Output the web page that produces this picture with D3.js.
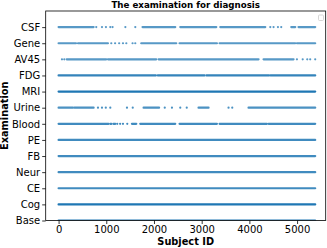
<!DOCTYPE html>
<html>
<head>
<meta charset="utf-8">
<script src="https://cdn.jsdelivr.net/npm/d3@7"></script>
<style>
  body { margin: 0; background: #fff; }
  text { font-family: "DejaVu Sans", sans-serif; }
</style>
</head>
<body>
<script>
// examinations, bottom to top
var exams = ["Base", "Cog", "CE", "Neur", "FB", "PE", "Blood", "Urine", "MRI", "FDG", "AV45", "Gene", "CSF"];
var xTicks = [0, 1000, 2000, 3000, 4000, 5000];

// subject id spans that have the examination ([from, to], single ids as [id, id])
var baseSpans = [[0, 5380]];
var cogSpans = [[0, 5380]];
var ceSpans = [[0, 5380]];
var neurSpans = [[0, 5380]];
var fbSpans = [[0, 5380]];
var peSpans = [[0, 5380]];
var bloodSpans = [[0, 1048], [1084, 1110], [1150, 1189], [1230, 1230], [1290, 1290], [1350, 1350], [1440, 1440],
                  [1538, 1629], [1712, 2446], [2536, 3320], [3375, 4368], [4402, 5380]];
var urineSpans = [[0, 300], [330, 734], [826, 826], [910, 910], [990, 990], [1084, 1084], [1434, 1434], [1555, 1555],
                  [1782, 2107], [2226, 2226], [2377, 2377], [2551, 2551], [2687, 2687], [2934, 3144],
                  [3563, 3563], [3641, 3641], [3982, 5380]];
var mriSpans = [[0, 5380]];
var fdgSpans = [[0, 2040], [2080, 3060], [3100, 4410], [4440, 5380]];
var av45Spans = [[71, 71], [120, 120], [170, 1000], [1035, 2048], [2096, 4192], [4297, 4926],
                 [4997, 4997], [5118, 5118], [5213, 5213], [5275, 5275], [5380, 5380]];
var geneSpans = [[0, 365], [407, 1035], [1105, 1105], [1185, 1185], [1270, 1270], [1350, 1350], [1420, 1420],
                 [1551, 1551], [1608, 1608], [1733, 2467], [2536, 3320], [3375, 4961], [4997, 5380]];
var csfSpans = [[0, 734], [790, 790], [910, 910], [993, 993], [1084, 1084], [1132, 1132], [1400, 1400], [1608, 1608],
                [1760, 2446], [2551, 3306], [3390, 4333], [4438, 4438], [4507, 4507], [4599, 4599], [4668, 4668],
                [4878, 4962], [5030, 5380]];

var spans = [baseSpans, cogSpans, ceSpans, neurSpans, fbSpans, peSpans, bloodSpans,
             urineSpans, mriSpans, fdgSpans, av45Spans, geneSpans, csfSpans];

var W = 327, H = 248;
var margin = {top: 11, right: 1.3, bottom: 27.5, left: 45.7};
var blue = "#1f77b4";

var svg = d3.select("body").append("svg")
    .attr("width", W).attr("height", H);

var x = d3.scaleLinear().domain([-270, 5600]).range([margin.left, W - margin.right]);
var y = d3.scaleLinear().domain([0, 13]).range([H - margin.bottom, margin.top]);

svg.append("defs").append("clipPath").attr("id", "plot")
  .append("rect")
    .attr("x", margin.left).attr("y", margin.top)
    .attr("width", W - margin.right - margin.left)
    .attr("height", H - margin.bottom - margin.top);

var dots = svg.append("g").attr("clip-path", "url(#plot)");

// how dark each row looks
var shade = {MRI: 1, Cog: 1, Base: 1, FDG: 0.9, CSF: 0.75, Gene: 0.75, AV45: 0.75, Urine: 0.8, Blood: 0.85};

exams.forEach(function(name, i) {
  var g = dots.append("g").attr("opacity", shade[name] || 0.85);
  spans[i].forEach(function(s) {
    if (s[0] == s[1]) {
      g.append("circle")
        .attr("cx", x(s[0])).attr("cy", y(i))
        .attr("r", 1.1).attr("fill", blue);
    } else {
      g.append("line")
        .attr("x1", x(s[0])).attr("x2", x(s[1]))
        .attr("y1", y(i)).attr("y2", y(i))
        .attr("stroke", blue).attr("stroke-width", 2.2)
        .attr("stroke-linecap", "round");
    }
  });
});

// axes
var xAxis = svg.append("g")
    .attr("transform", "translate(0," + (H - margin.bottom) + ")")
    .call(d3.axisBottom(x).tickValues(xTicks).tickSize(3.5).tickPadding(2).tickFormat(d3.format("d")));
var yAxis = svg.append("g")
    .attr("transform", "translate(" + margin.left + ",0)")
    .call(d3.axisLeft(y).tickValues(d3.range(exams.length)).tickSize(3.5).tickPadding(2)
      .tickFormat(function(d) { return exams[d]; }));

[xAxis, yAxis].forEach(function(a) {
  a.select(".domain").remove();
  a.selectAll("line").attr("stroke", "#000").attr("stroke-width", 0.8);
  a.selectAll("text").attr("fill", "#000").style("font-size", "10px").style("font-family", "DejaVu Sans");
});

// frame
svg.append("rect")
    .attr("x", margin.left).attr("y", margin.top)
    .attr("width", W - margin.right - margin.left)
    .attr("height", H - margin.bottom - margin.top)
    .attr("fill", "none").attr("stroke", "#000").attr("stroke-width", 0.8);

// empty legend box
svg.append("rect")
    .attr("x", 318.5).attr("y", 15).attr("width", 5).attr("height", 5.5)
    .attr("rx", 1).attr("fill", "#fff").attr("stroke", "#ccc").attr("stroke-width", 0.8);

// titles
svg.append("text")
    .attr("x", (margin.left + W - margin.right) / 2).attr("y", 7.5)
    .attr("text-anchor", "middle")
    .style("font-size", "8.7px").style("font-weight", "bold")
    .text("The examination for diagnosis");

svg.append("text")
    .attr("x", (margin.left + W - margin.right) / 2).attr("y", 245)
    .attr("text-anchor", "middle")
    .style("font-size", "9.8px").style("font-weight", "bold")
    .text("Subject ID");

svg.append("text")
    .attr("transform", "translate(8," + ((margin.top + H - margin.bottom) / 2) + ") rotate(-90)")
    .attr("text-anchor", "middle")
    .style("font-size", "9.8px").style("font-weight", "bold")
    .text("Examination");
</script>
</body>
</html>
